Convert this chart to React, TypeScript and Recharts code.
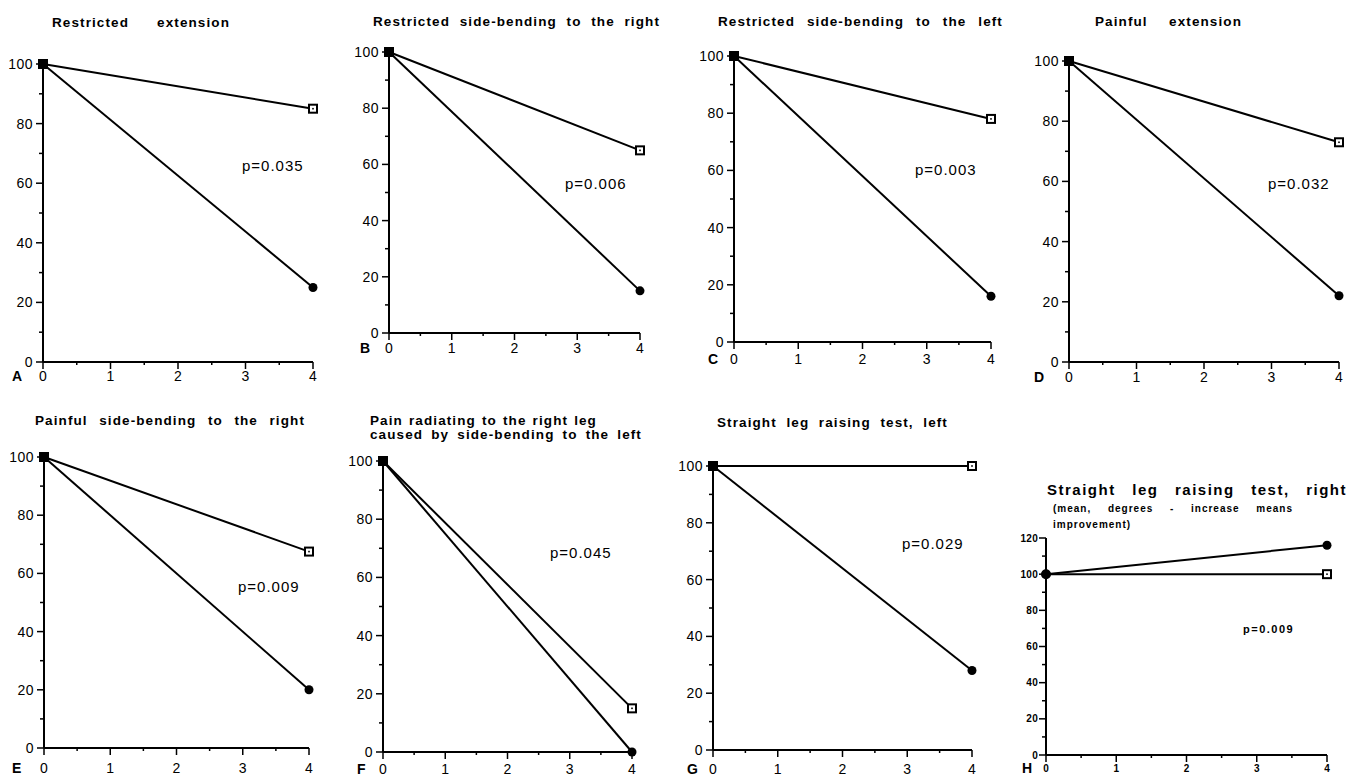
import React from "react";
import { Line, LineChart, XAxis, YAxis } from "recharts";

const weeks = [0, 4];
const panelLetters = ["A", "B", "C", "D", "E", "F", "G", "H"];
const panelTitles = [
  ["Restricted extension"],
  ["Restricted side-bending to the right"],
  ["Restricted side-bending to the left"],
  ["Painful extension"],
  ["Painful side-bending to the right"],
  ["Pain radiating to the right leg", "caused by side-bending to the left"],
  ["Straight leg raising test, left"],
  ["Straight leg raising test, right"],
];
const lastSubtitle = ["(mean, degrees - increase means", "improvement)"];
const openStart = [100, 100, 100, 100, 100, 100, 100, 100];
const openEnd = [85, 65, 78, 73, 67.5, 15, 100, 100];
const filledStart = [100, 100, 100, 100, 100, 100, 100, 100];
const filledEnd = [25, 15, 16, 22, 20, 0, 28, 116];
const pLabels = ["p=0.035", "p=0.006", "p=0.003", "p=0.032", "p=0.009", "p=0.045", "p=0.029", "p=0.009"];
const yTicks100 = [0, 10, 20, 30, 40, 50, 60, 70, 80, 90, 100];
const yTicks120 = [0, 10, 20, 30, 40, 50, 60, 70, 80, 90, 100, 110, 120];
const xTicks = [0, 0.5, 1, 1.5, 2, 2.5, 3, 3.5, 4];

// plot boxes and text spots, in page pixels
const frames = [
  { x0: 43, y0: 64, x1: 313, y1: 362, px: 242, py: 166, lx: 12, ly: 376, ty: 23, tl: [[52, 230]] },
  { x0: 389, y0: 52, x1: 640, y1: 333, px: 565, py: 184, lx: 360, ly: 348, ty: 22, tl: [[373, 660]] },
  { x0: 734, y0: 56, x1: 991, y1: 342, px: 915, py: 170, lx: 708, ly: 359, ty: 22, tl: [[718, 1003]] },
  { x0: 1069, y0: 61, x1: 1339, y1: 362, px: 1268, py: 184, lx: 1034, ly: 377, ty: 22, tl: [[1095, 1242]] },
  { x0: 44, y0: 457, x1: 309, y1: 748, px: 238, py: 587, lx: 12, ly: 768, ty: 421, tl: [[35, 305]] },
  { x0: 383, y0: 461, x1: 632, y1: 752, px: 550, py: 553, lx: 357, ly: 769, ty: 421, tl: [[370, 597], [370, 642]] },
  { x0: 713, y0: 466, x1: 972, y1: 750, px: 902, py: 544, lx: 687, ly: 769, ty: 423, tl: [[717, 948]] },
  { x0: 1046, y0: 538, x1: 1327, y1: 755, px: 1243, py: 630, lx: 1022, ly: 768, ty: 489, tl: [[1047, 1347]] },
];

const font = "'Liberation Sans', Arial, Helvetica, sans-serif";

function YTick(props: any) {
  const { x, y, payload, small } = props;
  const v = payload.value;
  const major = v % 20 === 0;
  return (
    <g>
      <line x1={x - (major ? 7 : 4)} x2={x} y1={y} y2={y} stroke="#000" strokeWidth={1.5} />
      {major && (
        <text
          x={x - (small ? 8 : 10)}
          y={y}
          textAnchor="end"
          dominantBaseline="central"
          fontFamily={font}
          fontSize={small ? 10 : 14}
          fontWeight={small ? 700 : 400}
          letterSpacing={small ? 0.3 : 0.5}
          fill="#000"
        >
          {v}
        </text>
      )}
    </g>
  );
}

function XTick(props: any) {
  const { x, y, payload, small, labelY } = props;
  const v = payload.value;
  const major = Number.isInteger(v);
  return (
    <g>
      <line x1={x} x2={x} y1={y} y2={y + (major ? 7 : 3)} stroke="#000" strokeWidth={1.5} />
      {major && (
        <text
          x={x}
          y={labelY}
          textAnchor="middle"
          dominantBaseline="central"
          fontFamily={font}
          fontSize={small ? 10 : 14}
          fontWeight={small ? 700 : 400}
          fill="#000"
        >
          {v}
        </text>
      )}
    </g>
  );
}

function OpenDot(props: any) {
  const { cx, cy, index, roundStart } = props;
  if (cx == null || cy == null) return null;
  if (index === 0) {
    if (roundStart) return <circle cx={cx} cy={cy} r={5} fill="#000" />;
    return <rect x={cx - 5} y={cy - 5} width={10} height={10} fill="#000" />;
  }
  return (
    <g>
      <rect x={cx - 4} y={cy - 4} width={8} height={8} fill="#fff" stroke="#000" strokeWidth={2} />
      <rect x={cx - 0.8} y={cy - 0.8} width={1.6} height={1.6} fill="#000" />
    </g>
  );
}

function FilledDot(props: any) {
  const { cx, cy } = props;
  if (cx == null || cy == null) return null;
  return <circle cx={cx} cy={cy} r={4.5} fill="#000" />;
}

function Title({ words, left, right, top, size, spacing }: any) {
  const parts = words.split(" ");
  return (
    <div
      style={{
        position: "absolute",
        left,
        top,
        width: right - left,
        display: "flex",
        justifyContent: parts.length > 1 ? "space-between" : "flex-start",
        fontFamily: font,
        fontWeight: 700,
        fontSize: size,
        letterSpacing: spacing,
        lineHeight: 1,
        whiteSpace: "nowrap",
      }}
    >
      {parts.map((w: string, i: number) => (
        <span key={i}>{w}</span>
      ))}
    </div>
  );
}

function Panel({ i }: { i: number }) {
  const f = frames[i];
  const last = i === 7;
  const rows = weeks.map((w, k) => ({
    week: w,
    open: k === 0 ? openStart[i] : openEnd[i],
    filled: k === 0 ? filledStart[i] : filledEnd[i],
  }));
  const w = f.x1 - f.x0;
  const h = f.y1 - f.y0;
  const titleSize = last ? 15 : 13.5;
  return (
    <>
      {panelTitles[i].map((t, k) => (
        <Title
          key={k}
          words={t}
          left={f.tl[k][0]}
          right={f.tl[k][1]}
          top={f.ty + k * 14 - titleSize / 2}
          size={titleSize}
          spacing={last ? 1.5 : 1.1}
        />
      ))}
      {last &&
        lastSubtitle.map((t, k) => (
          <Title
            key={"s" + k}
            words={t}
            left={1053}
            right={k === 0 ? 1293 : 1140}
            top={509 + k * 16 - 5}
            size={10}
            spacing={1}
          />
        ))}
      <div
        style={{
          position: "absolute",
          left: f.px,
          top: f.py - (last ? 6 : 8),
          fontFamily: font,
          fontSize: last ? 11 : 15,
          fontWeight: last ? 700 : 400,
          letterSpacing: last ? 1.5 : 1,
          lineHeight: 1,
        }}
      >
        {pLabels[i]}
      </div>
      <div
        style={{
          position: "absolute",
          left: f.lx,
          top: f.ly - 7,
          fontFamily: font,
          fontSize: 14,
          fontWeight: 700,
          lineHeight: 1,
        }}
      >
        {panelLetters[i]}
      </div>
      <div style={{ position: "absolute", left: f.x0 - 40, top: f.y0 - 10 }}>
        <LineChart
          width={w + 60}
          height={h + 40}
          data={rows}
          margin={{ top: 10, right: 20, bottom: 0, left: 0 }}
        >
          <XAxis
            type="number"
            dataKey="week"
            domain={[0, 4]}
            ticks={xTicks}
            interval={0}
            tickLine={false}
            tickSize={0}
            tickMargin={0}
            height={30}
            axisLine={{ stroke: "#000", strokeWidth: 2 }}
            tick={(p: any) => <XTick {...p} small={last} labelY={p.y + (f.ly - f.y1)} />}
          />
          <YAxis
            type="number"
            domain={[0, last ? 120 : 100]}
            ticks={last ? yTicks120 : yTicks100}
            interval={0}
            tickLine={false}
            tickSize={0}
            tickMargin={0}
            width={40}
            axisLine={{ stroke: "#000", strokeWidth: 2 }}
            tick={(p: any) => <YTick {...p} small={last} />}
          />
          <Line
            dataKey="filled"
            stroke="#000"
            strokeWidth={2}
            dot={(p: any) => <FilledDot key={p.index} {...p} />}
            isAnimationActive={false}
          />
          <Line
            dataKey="open"
            stroke="#000"
            strokeWidth={2}
            dot={(p: any) => <OpenDot key={p.index} {...p} roundStart={last} />}
            isAnimationActive={false}
          />
        </LineChart>
      </div>
    </>
  );
}

export default function App() {
  return (
    <div
      style={{
        position: "absolute",
        left: 0,
        top: 0,
        width: 1348,
        height: 777,
        background: "#fff",
        overflow: "hidden",
      }}
    >
      {panelLetters.map((_, i) => (
        <Panel key={i} i={i} />
      ))}
    </div>
  );
}
